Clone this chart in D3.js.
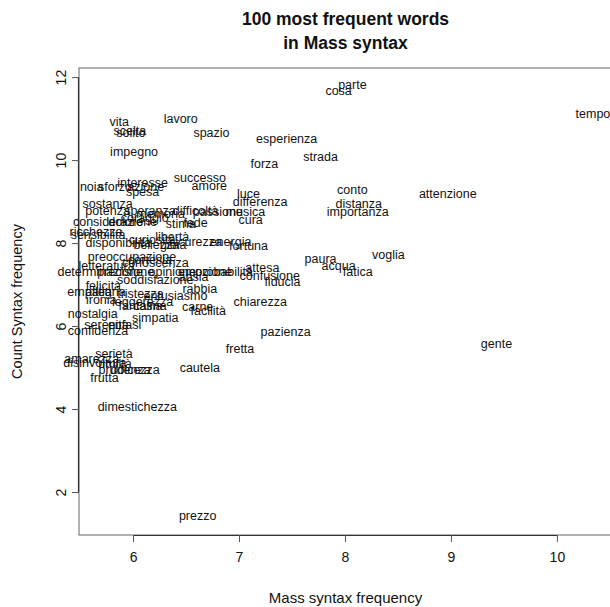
<!DOCTYPE html>
<html>
<head>
<meta charset="utf-8">
<script src="https://cdn.jsdelivr.net/npm/d3@7"></script>
<style>
  html, body { margin: 0; padding: 0; background: #fff; }
  svg { display: block; }
  text { font-family: "Liberation Sans", Arial, Helvetica, sans-serif; fill: #111; }
</style>
</head>
<body>
<svg id="chart" width="610" height="607"></svg>
<script>
// Word list with frequency in the Mass syntax (x) and Count syntax (y)
const words = ["parte","cosa","tempo","vita","lavoro","scelta","solito","spazio","esperienza","impegno",
  "strada","forza","successo","amore","interesse","noia","sforzo","azione","spesa","luce",
  "differenza","conto","attenzione","distanza","importanza","sostanza","potenza","speranza","memoria","difficoltà",
  "passione","musica","cura","considerazione","dolore","stima","fede","ricchezza","sensibilità","curiosità",
  "libertà","disponibilità","bellezza","gioia","sicurezza","energia","fortuna","preoccupazione","conoscenza","cortesia",
  "letteratura","determinazione","precisione","opinione","probabilità","ansia","soddisfazione","attesa","confusione","fiducia",
  "paura","acqua","fatica","voglia","felicità","empatia","allegria","tristezza","entusiasmo","rabbia",
  "ironia","leggerezza","fantasia","calma","carne","facilità","chiarezza","nostalgia","simpatia","serenità",
  "enfasi","confidenza","pazienza","fretta","gente","serietà","amarezza","disinvoltura","umiltà","prudenza",
  "dolcezza","cautela","frutta","dimestichezza","prezzo","emozione","coraggio"];

const massFreq = [8.07,7.94,10.34,5.87,6.45,5.97,5.98,6.74,7.45,6.01,
  7.77,7.24,6.63,6.72,6.09,5.61,5.83,6.12,6.09,7.09,
  7.20,8.07,8.97,8.13,8.12,5.76,5.76,6.16,6.26,6.59,
  6.80,7.06,7.11,5.83,5.93,6.45,6.59,5.65,5.67,6.18,
  6.37,5.86,6.22,6.38,6.59,6.92,7.09,5.99,6.21,6.16,
  5.75,5.69,5.93,6.37,6.86,6.57,6.21,7.22,7.29,7.41,
  7.77,7.94,8.12,8.41,5.72,5.59,5.74,6.07,6.40,6.63,
  5.70,6.09,6.07,6.16,6.61,6.71,7.20,5.62,6.21,5.75,
  5.92,5.67,7.44,7.01,9.43,5.82,5.61,5.64,5.83,5.92,
  6.02,6.63,5.73,6.04,6.61,6.68,6.11];

const countFreq = [11.81,11.66,11.11,10.92,10.99,10.70,10.65,10.65,10.51,10.19,
  10.07,9.90,9.57,9.37,9.45,9.35,9.35,9.35,9.23,9.18,
  8.99,9.28,9.18,8.94,8.75,8.94,8.77,8.77,8.70,8.77,
  8.75,8.75,8.55,8.51,8.51,8.46,8.48,8.27,8.19,8.07,
  8.14,8.00,7.95,7.95,8.02,8.02,7.93,7.66,7.52,7.59,
  7.45,7.30,7.30,7.30,7.30,7.18,7.11,7.40,7.20,7.06,
  7.61,7.45,7.30,7.71,6.96,6.82,6.82,6.77,6.72,6.89,
  6.63,6.58,6.48,6.48,6.46,6.36,6.58,6.29,6.19,6.02,
  6.02,5.88,5.86,5.45,5.57,5.33,5.20,5.11,5.08,4.94,
  4.94,4.99,4.75,4.05,1.42,7.30,8.60];

const xTicks = [6, 7, 8, 9, 10];
const yTicks = [2, 4, 6, 8, 10, 12];

const titleLines = ["100 most frequent words", "in Mass syntax"];
const xTitle = "Mass syntax frequency";
const yTitle = "Count Syntax frequency";

const svg = d3.select("#chart");
const box = { left: 79, right: 612, top: 68, bottom: 535 };

const x = d3.scaleLinear().domain([5.49, 10.52]).range([box.left, box.right]);
const y = d3.scaleLinear().domain([0.964, 12.22]).range([box.bottom, box.top]);

// plot frame
svg.append("rect")
  .attr("x", box.left).attr("y", box.top)
  .attr("width", box.right - box.left).attr("height", box.bottom - box.top)
  .attr("fill", "none").attr("stroke", "#666").attr("stroke-width", 1);

// bottom axis
const xAxis = svg.append("g")
  .attr("transform", `translate(0,${box.bottom})`)
  .call(d3.axisBottom(x).tickValues(xTicks).tickSize(7).tickPadding(10).tickFormat(d3.format("d")));
xAxis.select(".domain").attr("d", `M${x(xTicks[0])},0.5H${x(xTicks[xTicks.length - 1])}`)
  .attr("stroke", "#333").attr("stroke-width", 1.2);
xAxis.selectAll(".tick line").attr("stroke", "#555");
xAxis.selectAll(".tick text").attr("font-size", 14).attr("fill", "#111")
  .attr("font-family", "'Liberation Sans', Arial, sans-serif");

// left axis
const yAxis = svg.append("g")
  .attr("transform", `translate(${box.left},0)`)
  .call(d3.axisLeft(y).tickValues(yTicks).tickSize(7).tickFormat(d3.format("d")));
yAxis.select(".domain").attr("d", `M-0.5,${y(yTicks[0])}V${y(yTicks[yTicks.length - 1])}`)
  .attr("stroke", "#333").attr("stroke-width", 1.2);
yAxis.selectAll(".tick line").attr("stroke", "#555");
yAxis.selectAll(".tick text")
  .attr("font-size", 14).attr("fill", "#111")
  .attr("font-family", "'Liberation Sans', Arial, sans-serif")
  .attr("x", null).attr("dy", null)
  .attr("text-anchor", "middle")
  .attr("transform", "translate(-18,0) rotate(-90)")
  .attr("dominant-baseline", "central");

// word labels, centred on their coordinates
svg.append("g")
  .selectAll("text")
  .data(words.map((w, i) => ({ w, mx: massFreq[i], cy: countFreq[i] })))
  .join("text")
  .attr("x", d => x(d.mx))
  .attr("y", d => y(d.cy))
  .attr("text-anchor", "middle")
  .attr("dominant-baseline", "central")
  .attr("font-size", 12.5)
  .text(d => d.w);

// titles
svg.append("g").selectAll("text")
  .data(titleLines)
  .join("text")
  .attr("x", (box.left + box.right) / 2)
  .attr("y", (d, i) => 25 + i * 24)
  .attr("text-anchor", "middle")
  .attr("font-weight", "bold")
  .attr("font-size", 17.5)
  .text(d => d);

svg.append("text")
  .attr("x", (box.left + box.right) / 2).attr("y", 603)
  .attr("text-anchor", "middle").attr("font-size", 15)
  .text(xTitle);

svg.append("text")
  .attr("transform", `translate(22,${(box.top + box.bottom) / 2}) rotate(-90)`)
  .attr("text-anchor", "middle").attr("font-size", 14.5)
  .text(yTitle);
</script>
</body>
</html>
